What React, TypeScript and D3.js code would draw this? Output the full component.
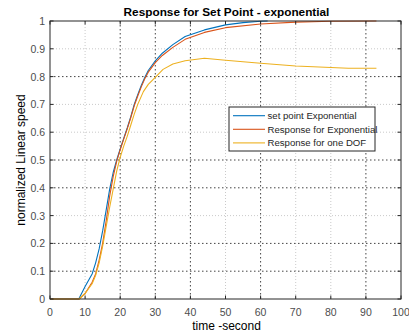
import React from "react";
import * as d3 from "d3";

const xTicks = [0, 10, 20, 30, 40, 50, 60, 70, 80, 90, 100];
const yTicks = [0, 0.1, 0.2, 0.3, 0.4, 0.5, 0.6, 0.7, 0.8, 0.9, 1];
const darkX = [20, 30, 40, 60, 90];
const darkY = [0.1, 0.2, 0.4, 0.5, 0.8];

const setPointT = [0, 8.2, 10, 12, 13, 14, 15, 16, 17, 18, 19, 20, 21, 22, 23, 24, 25, 26, 27, 28, 30, 32, 35, 38.5, 44, 50, 55, 60, 62];
const setPointV = [0, 0, 0.045, 0.09, 0.13, 0.18, 0.245, 0.32, 0.395, 0.455, 0.5, 0.54, 0.578, 0.615, 0.655, 0.70, 0.735, 0.768, 0.797, 0.822, 0.857, 0.884, 0.915, 0.944, 0.968, 0.986, 0.994, 0.999, 1.0];

const respT = [0, 8.3, 10, 12, 13, 14, 15, 16, 17, 18, 19, 20, 21, 22, 23, 24, 25, 26, 27, 28, 30, 32, 35, 38.5, 44, 50, 60, 70, 80, 93];
const respV = [0, 0, 0.02, 0.06, 0.09, 0.14, 0.2, 0.28, 0.37, 0.44, 0.495, 0.537, 0.575, 0.612, 0.652, 0.695, 0.73, 0.763, 0.792, 0.816, 0.85, 0.876, 0.905, 0.934, 0.959, 0.976, 0.989, 0.996, 0.999, 1.0];

const dofT = [0, 8.3, 10, 12, 13, 14, 15, 16, 17, 18, 19, 20, 21, 22, 23, 24, 25, 26.6, 28, 30, 32.2, 35, 38.5, 44, 50, 60, 70, 80, 85, 93];
const dofV = [0, 0, 0.02, 0.055, 0.085, 0.13, 0.19, 0.26, 0.33, 0.395, 0.46, 0.51, 0.55, 0.585, 0.625, 0.665, 0.70, 0.746, 0.772, 0.797, 0.826, 0.845, 0.857, 0.866, 0.859, 0.848, 0.838, 0.833, 0.83, 0.83];

const seriesNames = ["set point Exponential", "Response for Exponential", "Response for one DOF"];
const seriesColors = ["#0072BD", "#D95319", "#EDB120"];

export default function App() {
  const W = 409, H = 336;
  const x = d3.scaleLinear().domain([0, 100]).range([50, 401]);
  const y = d3.scaleLinear().domain([0, 1]).range([299, 21]);
  const line = d3.line<[number, number]>().x(d => x(d[0])).y(d => y(d[1]));
  const series = [
    setPointT.map((t, i) => [t, setPointV[i]] as [number, number]),
    respT.map((t, i) => [t, respV[i]] as [number, number]),
    dofT.map((t, i) => [t, dofV[i]] as [number, number]),
  ];
  const font = "'Liberation Sans', Arial, sans-serif";
  const [x0, x1] = x.range();
  const [y0, y1] = y.range();
  const lx = 229, ly = 107, lw = 146, lh = 44;
  return (
    <svg width={W} height={H} style={{ position: "absolute", left: 0, top: 0, background: "#fff" }} fontFamily={font}>
      <rect x={0} y={0} width={W} height={H} fill="#fff" />
      {xTicks.slice(1, -1).map(t => {
        const dark = darkX.includes(t);
        return (
          <line key={"gx" + t} x1={x(t)} x2={x(t)} y1={y1} y2={y0}
            stroke={dark ? "#444" : "#bbb"} strokeWidth={dark ? 1 : 0.8}
            strokeDasharray={dark ? "1.5,2.5" : "1,2"} />
        );
      })}
      {yTicks.slice(1, -1).map(t => {
        const dark = darkY.includes(t);
        return (
          <line key={"gy" + t} x1={x0} x2={x1} y1={y(t)} y2={y(t)}
            stroke={dark ? "#444" : "#bbb"} strokeWidth={dark ? 1 : 0.8}
            strokeDasharray={dark ? "1.5,2.5" : "1,2"} />
        );
      })}
      {series.map((s, i) => (
        <path key={"s" + i} d={line(s) || ""} fill="none" stroke={seriesColors[i]} strokeWidth={1.1} strokeLinejoin="round" />
      ))}
      <rect x={x0} y={y1} width={x1 - x0} height={y0 - y1} fill="none" stroke="#262626" strokeWidth={1} />
      {xTicks.map(t => (
        <g key={"tx" + t}>
          <line x1={x(t)} x2={x(t)} y1={y0} y2={y0 - 3.5} stroke="#262626" />
          <line x1={x(t)} x2={x(t)} y1={y1} y2={y1 + 3.5} stroke="#262626" />
          <text x={x(t)} y={316} textAnchor="middle" fontSize={10.5} fill="#4d4d4d">{t}</text>
        </g>
      ))}
      {yTicks.map(t => (
        <g key={"ty" + t}>
          <line x1={x0} x2={x0 + 3.5} y1={y(t)} y2={y(t)} stroke="#262626" />
          <line x1={x1} x2={x1 - 3.5} y1={y(t)} y2={y(t)} stroke="#262626" />
          <text x={45} y={y(t) + 4} textAnchor="end" fontSize={10.5} fill="#4d4d4d">{String(t)}</text>
        </g>
      ))}
      <text x={226.5} y={16} textAnchor="middle" fontSize={11.8} fontWeight="bold" fill="#000">Response for Set Point - exponential</text>
      <text x={226.5} y={330} textAnchor="middle" fontSize={12} fill="#000">time -second</text>
      <text transform={`translate(25,160) rotate(-90)`} textAnchor="middle" fontSize={12} fill="#000">normalized Linear speed</text>
      <rect x={lx} y={ly} width={lw} height={lh} fill="#fff" stroke="#262626" strokeWidth={1} />
      {seriesNames.map((n, i) => {
        const yy = ly + 8.7 + i * 13.6;
        return (
          <g key={"lg" + i}>
            <line x1={lx + 4} x2={lx + 36} y1={yy} y2={yy} stroke={seriesColors[i]} strokeWidth={1.1} />
            <text x={lx + 38.5} y={yy + 3.5} fontSize={9.6} fill="#262626">{n}</text>
          </g>
        );
      })}
    </svg>
  );
}
